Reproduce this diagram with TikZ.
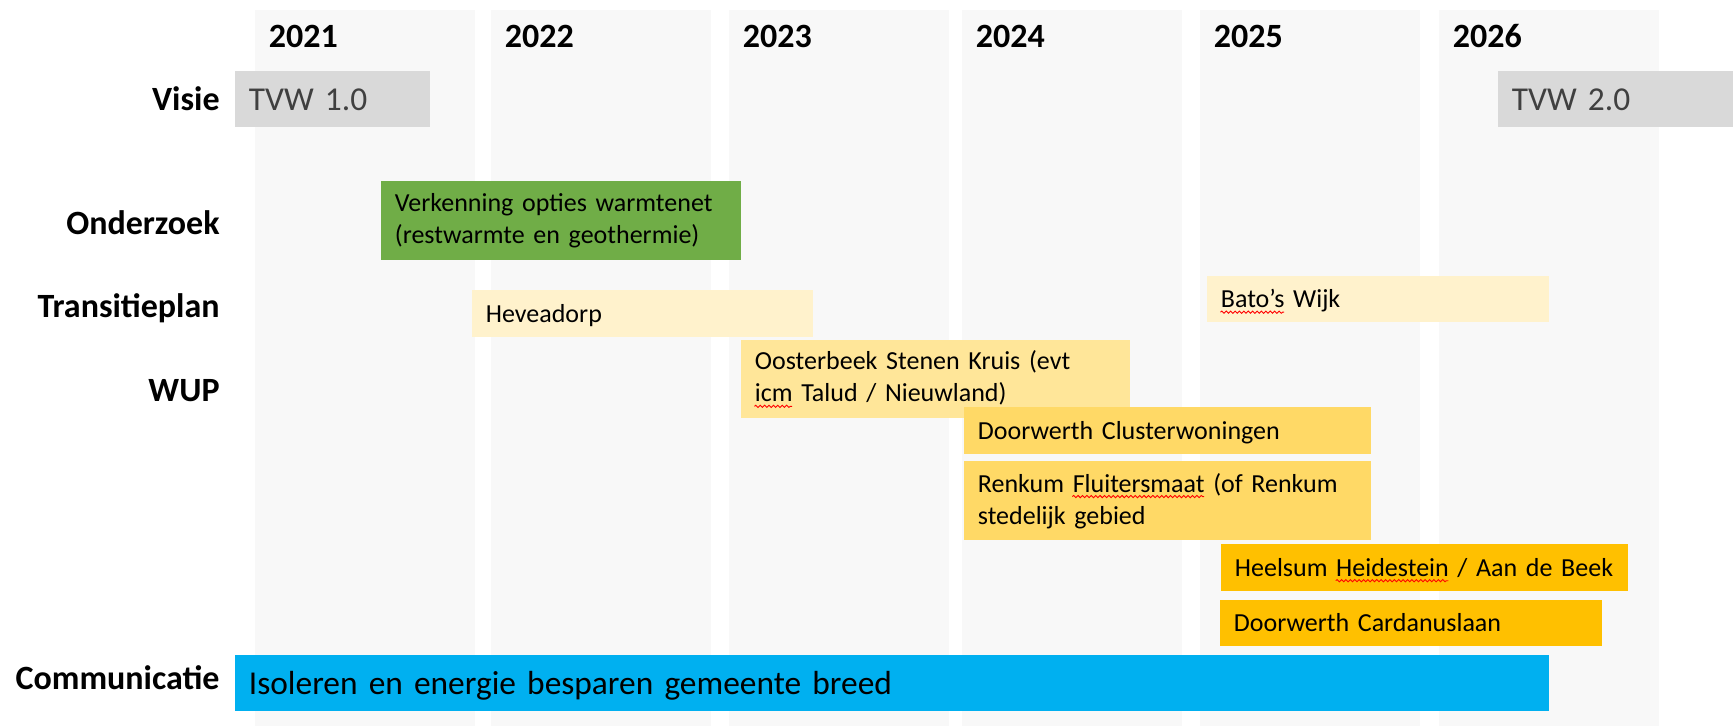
\documentclass[tikz,border=0pt]{standalone}
\usepackage{fontspec}
\setmainfont{Carlito}
\usetikzlibrary{decorations.pathmorphing}
\newsavebox\spbox
\newcommand\spellmark[1]{\sbox\spbox{#1}\usebox\spbox\llap{\tikz[baseline=0pt]\draw[red, line width=0.45pt, decorate, decoration={snake, amplitude=0.55pt, segment length=2.2pt}] (0pt,-2.2pt) -- (\wd\spbox,-2.2pt);}}
\definecolor{cCol}{HTML}{F8F8F8}
\definecolor{cTvw}{HTML}{D9D9D9}
\definecolor{cTvwText}{HTML}{404040}
\definecolor{cGreen}{HTML}{70AD47}
\definecolor{cCream}{HTML}{FFF2CC}
\definecolor{cLight}{HTML}{FFE699}
\definecolor{cMid}{HTML}{FFD966}
\definecolor{cGold}{HTML}{FFC000}
\definecolor{cSky}{HTML}{00B0F0}
\tikzset{
  yearcol/.style={fill=cCol},
  task/.style={anchor=north west, inner xsep=6.75pt, inner ysep=0pt, align=left,
    font=\fontsize{13}{16}\selectfont, text=black},
  oneline/.style={text height=11.4pt, text depth=3pt},
  bigtext/.style={font=\fontsize{16.7}{20}\selectfont, text height=14.75pt, text depth=4pt},
  yearlab/.style={anchor=base west, inner sep=0pt, font=\bfseries\fontsize{17}{20}\selectfont},
  rowlab/.style={anchor=base east, inner sep=0pt, font=\bfseries\fontsize{17}{20}\selectfont},
}
\newcommand\taskbox[8][]{%
  \pgfmathsetmacro\tbw{(#5-#3)*0.5}%
  \pgfmathsetmacro\tbh{(#6-#4)*0.5}%
  \pgfmathsetmacro\tbt{(#5-#3)*0.5-13.5}%
  \node[task, fill=#7, minimum width=\tbw pt, minimum height=\tbh pt, text width=\tbt pt, #1] (#2) at (#3,#4) {#8};}
\begin{document}
\begin{tikzpicture}[x=0.5pt, y=-0.5pt]
\useasboundingbox (0,0) rectangle (1733,726);
% year columns
\foreach \cx/\yr [count=\i] in {255/2021, 491/2022, 729/2023, 962/2024, 1200/2025, 1439/2026} {
  \fill[yearcol] (\cx,10) rectangle ++(220,716);
  \node[yearlab] (y\i) at (\cx+13.5,48) {\yr};
}
% row labels
\node[rowlab] (lVisie) at (220,111) {Visie};
\node[rowlab] (lOnder) at (220,235) {Onderzoek};
\node[rowlab] (lTrans) at (220,318) {Transitieplan};
\node[rowlab] (lWup) at (220,402) {WUP};
\node[rowlab] (lComm) at (220,689) {Communicatie};
% bars
\taskbox[bigtext, text=cTvwText]{tvw1}{235}{71}{430}{127}{cTvw}{TVW 1.0}
\taskbox[bigtext, text=cTvwText]{tvw2}{1498}{71}{1733}{127}{cTvw}{TVW 2.0}
\taskbox{verk}{381}{181}{741}{260}{cGreen}{Verkenning opties warmtenet\\(restwarmte en geothermie)}
\taskbox[oneline]{hevea}{472}{290}{813}{337}{cCream}{Heveadorp}
\taskbox[oneline]{bato}{1207}{276}{1549}{322}{cCream}{\spellmark{Bato’s} Wijk}
\taskbox{oost}{741}{340}{1130}{418}{cLight}{Oosterbeek Stenen Kruis (evt\\\spellmark{icm} Talud / Nieuwland)}
\taskbox[oneline]{clust}{964}{407}{1371}{454}{cMid}{Doorwerth Clusterwoningen}
\taskbox{renk}{964}{461}{1371}{540}{cMid}{Renkum \spellmark{Fluitersmaat} (of Renkum\\stedelijk gebied}
\taskbox[oneline]{heel}{1221}{544}{1628}{591}{cGold}{Heelsum \spellmark{Heidestein} / Aan de Beek}
\taskbox[oneline]{card}{1220}{600}{1602}{646}{cGold}{Doorwerth Cardanuslaan}
\taskbox[bigtext]{comm}{235}{655}{1549}{711}{cSky}{Isoleren en energie besparen gemeente breed}
\end{tikzpicture}
\end{document}
